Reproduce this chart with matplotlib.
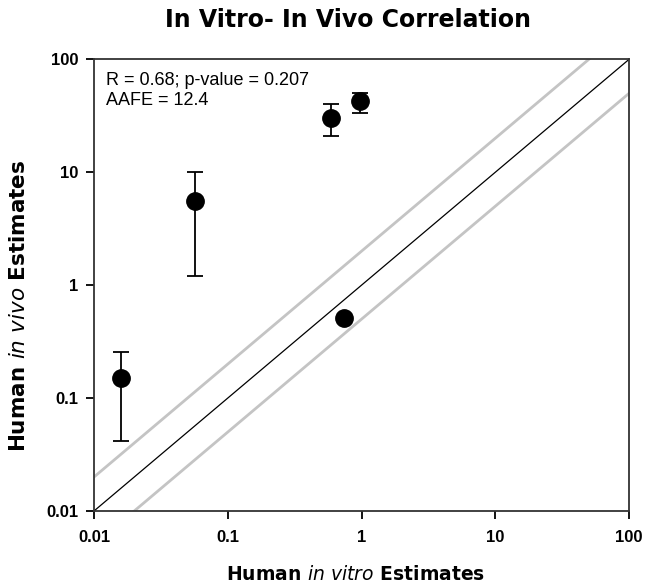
import numpy as np
import matplotlib
matplotlib.use("Agg")
import matplotlib.pyplot as plt

plt.rcParams['font.family'] = ['Liberation Sans', 'DejaVu Sans']
plt.rcParams['mathtext.fontset'] = 'custom'
plt.rcParams['mathtext.it'] = 'DejaVu Sans:italic'
plt.rcParams['mathtext.rm'] = 'DejaVu Sans:bold'

# Data
in_vitro = [0.0159, 0.057, 0.594, 0.98, 0.746]
in_vivo = [0.152, 5.6, 30.5, 43.2, 0.517]
in_vivo_hi = [0.256, 10.0, 40.1, 50.8, 0.517]
in_vivo_lo = [0.042, 1.2, 21.1, 33.8, 0.517]

ticks = [0.01, 0.1, 1, 10, 100]
tick_labels = ["0.01", "0.1", "1", "10", "100"]
fold = 2.0

vivo = np.array(in_vivo)
yerr = [vivo - np.array(in_vivo_lo), np.array(in_vivo_hi) - vivo]

fig = plt.figure(figsize=(6.46, 5.85), dpi=100)
ax = fig.add_axes([0.1455, 0.1265, 0.8282, 0.772])

line = np.array([0.01, 100])
ax.plot(line, line, color='black', lw=0.9, zorder=2)
ax.plot(line, line * fold, color='#c4c4c4', lw=2, zorder=2)
ax.plot(line, line / fold, color='#c4c4c4', lw=2, zorder=2)

ax.errorbar(in_vitro, in_vivo, yerr=yerr, fmt='o', color='black',
            ms=12.5, elinewidth=1.3, capsize=6, capthick=1.3, zorder=3)

ax.set_xscale('log')
ax.set_yscale('log')
ax.set_xlim(0.01, 100)
ax.set_ylim(0.01, 100)
ax.set_xticks(ticks)
ax.set_xticklabels(tick_labels, fontweight='bold', fontsize=12)
ax.set_yticks(ticks)
ax.set_yticklabels(tick_labels, fontweight='bold', fontsize=12)
ax.minorticks_off()
ax.tick_params(direction='out', length=6, width=1.3)
ax.tick_params(axis='x', pad=8)
ax.tick_params(axis='y', pad=5)
for s in ax.spines.values():
    s.set_linewidth(1.3)
    s.set_color('#333333')

ax.text(0.023, 0.972, "R = 0.68; p-value = 0.207\nAAFE = 12.4",
        transform=ax.transAxes, ha='left', va='top', fontsize=13,
        linespacing=1.25)

fig.text(0.550, 1 - 575 / 585, r"Human $in\ vitro$ Estimates",
         ha='center', va='center', fontweight='bold', fontsize=13.5,
         family='DejaVu Sans')
fig.text(0.029, 0.477, r"Human $in\ vivo$ Estimates", rotation=90,
         ha='center', va='center', fontweight='bold', fontsize=15.5,
         family='DejaVu Sans')
fig.text(0.539, 0.965, "In Vitro- In Vivo Correlation", ha='center',
         va='center', fontweight='bold', fontsize=17, family='DejaVu Sans')

fig.savefig("out.png", dpi=100)
